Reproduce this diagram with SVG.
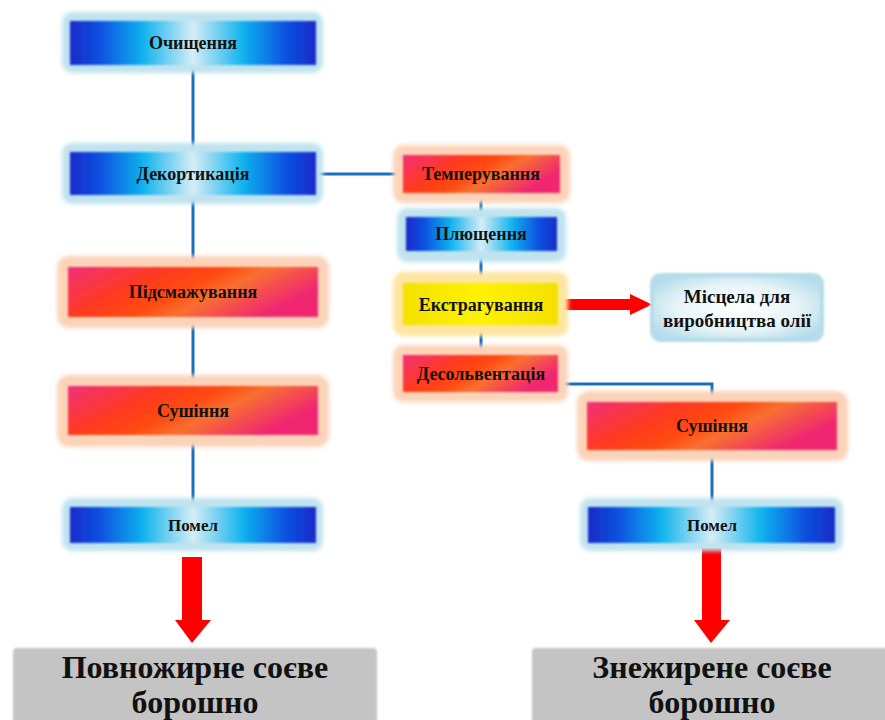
<svg xmlns="http://www.w3.org/2000/svg" width="885" height="720" viewBox="0 0 885 720">
<defs>
<linearGradient id="gBlue" x1="0" y1="0" x2="1" y2="0">
<stop offset="0" stop-color="#1a2bc8"/>
<stop offset="0.12" stop-color="#0a50e0"/>
<stop offset="0.3" stop-color="#12b4ee"/>
<stop offset="0.5" stop-color="#d6ecf4"/>
<stop offset="0.7" stop-color="#12b4ee"/>
<stop offset="0.88" stop-color="#0a50e0"/>
<stop offset="1" stop-color="#1a2bc8"/>
</linearGradient>
<linearGradient id="gRed" x1="0" y1="0" x2="1" y2="0.4">
<stop offset="0" stop-color="#f0307a"/>
<stop offset="0.35" stop-color="#ff3a20"/>
<stop offset="0.55" stop-color="#ff4a10"/>
<stop offset="0.7" stop-color="#f87030"/>
<stop offset="1" stop-color="#f02870"/>
</linearGradient>
<linearGradient id="gYel" x1="0" y1="0" x2="1" y2="0">
<stop offset="0" stop-color="#f4e000"/>
<stop offset="0.5" stop-color="#fff200"/>
<stop offset="1" stop-color="#f4e000"/>
</linearGradient>
<radialGradient id="gMix" cx="0.5" cy="0.5" r="0.6">
<stop offset="0" stop-color="#ffffff"/>
<stop offset="0.6" stop-color="#e6f4f8"/>
<stop offset="1" stop-color="#b4dcea"/>
</radialGradient>
<filter id="blur" x="-10%" y="-30%" width="120%" height="160%">
<feGaussianBlur stdDeviation="2"/>
</filter>
<filter id="soft" x="-5%" y="-20%" width="110%" height="140%">
<feGaussianBlur stdDeviation="0.8"/>
</filter>
</defs>
<style>
.gb{fill:#bfe3ef;filter:url(#blur)}
.gr{fill:#fbd3b8;filter:url(#blur)}
.gy{fill:#fde6a0;filter:url(#blur)}
.b{fill:url(#gBlue);filter:url(#soft)}
.r{fill:url(#gRed);filter:url(#soft)}
.y{fill:url(#gYel);filter:url(#soft)}
.t{font-family:"Liberation Serif","Times New Roman",serif;font-weight:bold;fill:#111;text-anchor:middle}
.s16{font-size:18px}
.s15{font-size:17px}
.s19{font-size:19px}
.big{font-size:32px}
.ln{stroke:#1a6fbf;stroke-width:3;fill:none}
.arr{fill:#ff0000}
</style>
<rect width="885" height="720" fill="#ffffff"/>

<g id="connectors">
<line class="ln" x1="193" y1="68" x2="193" y2="148"/>
<line class="ln" x1="193" y1="198" x2="193" y2="265"/>
<line class="ln" x1="193" y1="320" x2="193" y2="384"/>
<line class="ln" x1="193" y1="438" x2="193" y2="505"/>
<line class="ln" x1="318" y1="174" x2="403" y2="174"/>
<line class="ln" x1="481" y1="194" x2="481" y2="215"/>
<line class="ln" x1="481" y1="253" x2="481" y2="281"/>
<line class="ln" x1="481" y1="327" x2="481" y2="353"/>
<polyline class="ln" points="560,373 560,384 712,384 712,401"/>
<line class="ln" x1="712" y1="452" x2="712" y2="505"/>
<polygon class="arr" points="562,299 630,299 630,294 652,304.5 630,315 630,310 562,310"/>
<polygon class="arr" points="182,557 202,557 202,620 211,620 192,643 175,620 182,620"/>
<polygon class="arr" points="702,548 721,548 721,620 730,620 711,643 694,620 702,620"/>
</g>

<g id="n-ochyshchennya">
<rect class="gb" x="62" y="12" width="261" height="61" rx="10"/>
<rect class="b" x="70" y="21" width="246" height="44"/>
<text class="t s16" x="193" y="49">Очищення</text>
</g>

<g id="n-dekortykatsiya">
<rect class="gb" x="62" y="143" width="261" height="61" rx="10"/>
<rect class="b" x="70" y="152" width="246" height="43"/>
<text class="t s16" x="193" y="180">Декортикація</text>
</g>

<g id="n-pidsmazhuvannya">
<rect class="gr" x="57" y="256" width="272" height="72" rx="12"/>
<rect class="r" x="68" y="267" width="250" height="50"/>
<text class="t s16" x="193" y="298">Підсмажування</text>
</g>

<g id="n-sushinnya-1">
<rect class="gr" x="57" y="375" width="272" height="72" rx="12"/>
<rect class="r" x="68" y="386" width="250" height="49"/>
<text class="t s16" x="193" y="417">Сушіння</text>
</g>

<g id="n-pomel-1">
<rect class="gb" x="62" y="498" width="261" height="53" rx="10"/>
<rect class="b" x="70" y="507" width="246" height="36"/>
<text class="t s15" x="193" y="531">Помел</text>
</g>

<g id="n-temperuvannya">
<rect class="gr" x="393" y="145" width="177" height="58" rx="10"/>
<rect class="r" x="403" y="155" width="157" height="38"/>
<text class="t s16" x="481" y="180">Темперування</text>
</g>

<g id="n-plyushchennya">
<rect class="gb" x="397" y="208" width="169" height="54" rx="10"/>
<rect class="b" x="406" y="217" width="151" height="34"/>
<text class="t s16" x="481" y="240">Плющення</text>
</g>

<g id="n-ekstraguvannya">
<rect class="gy" x="393" y="272" width="175" height="64" rx="10"/>
<rect class="y" x="403" y="283" width="155" height="42"/>
<text class="t s16" x="481" y="311">Екстрагування</text>
</g>

<g id="n-desolventatsiya">
<rect class="gr" x="393" y="345" width="175" height="57" rx="10"/>
<rect class="r" x="403" y="355" width="155" height="37"/>
<text class="t s16" x="481" y="380">Десольвентація</text>
</g>

<g id="n-mistsela">
<rect x="652" y="275" width="170" height="65" rx="9" fill="url(#gMix)" stroke="#b4dcea" stroke-width="4" filter="url(#soft)"/>
<text class="t s19" x="737" y="303">Місцела для</text>
<text class="t s19" x="737" y="327">виробництва олії</text>
</g>

<g id="n-sushinnya-2">
<rect class="gr" x="577" y="391" width="271" height="70" rx="12"/>
<rect class="r" x="587" y="402" width="250" height="48"/>
<text class="t s16" x="712" y="432">Сушіння</text>
</g>

<g id="n-pomel-2">
<rect class="gb" x="580" y="498" width="263" height="53" rx="10"/>
<rect class="b" x="588" y="507" width="247" height="36"/>
<text class="t s15" x="712" y="531">Помел</text>
</g>

<g id="n-povnozhyrne">
<rect x="13" y="648" width="364" height="80" rx="4" fill="#c4c4c4" filter="url(#soft)"/>
<text class="t big" x="195" y="678">Повножирне соєве</text>
<text class="t big" x="195" y="713">борошно</text>
</g>

<g id="n-znezhyrene">
<rect x="532" y="648" width="360" height="80" rx="4" fill="#c4c4c4" filter="url(#soft)"/>
<text class="t big" x="712" y="678">Знежирене соєве</text>
<text class="t big" x="712" y="713">борошно</text>
</g>
</svg>
